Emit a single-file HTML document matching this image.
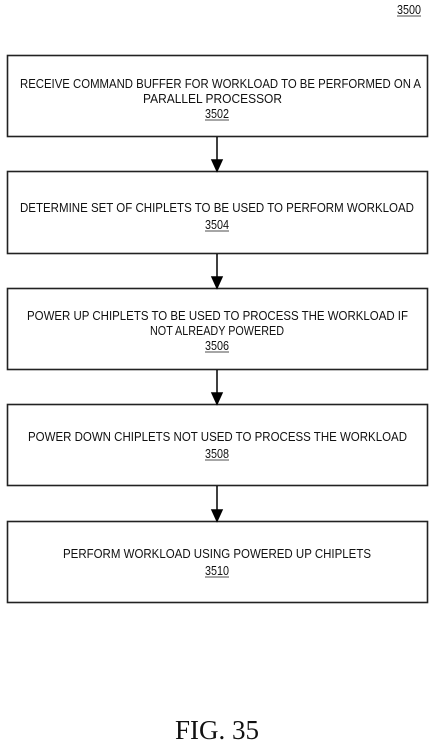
<!DOCTYPE html>
<html><head><meta charset="utf-8"><style>
html,body{margin:0;padding:0;background:#fff;}
svg{display:block;}
text{font-family:"Liberation Sans",Arial,sans-serif;font-size:13px;fill:#111;}
</style></head><body>
<svg width="434" height="749" viewBox="0 0 434 749" xmlns="http://www.w3.org/2000/svg">
<g fill="none" stroke="#222" stroke-width="1.6">
<rect x="7.5" y="55.5" width="420" height="81"/>
<rect x="7.5" y="171.5" width="420" height="82"/>
<rect x="7.5" y="288.5" width="420" height="81"/>
<rect x="7.5" y="404.5" width="420" height="81"/>
<rect x="7.5" y="521.5" width="420" height="81"/>
</g>
<g stroke="#000" stroke-width="1.5">
<line x1="217" y1="137" x2="217" y2="171"/>
<path d="M212,160 L222,160 L217,171 Z" fill="#000"/>
<line x1="217" y1="254" x2="217" y2="288"/>
<path d="M212,277 L222,277 L217,288 Z" fill="#000"/>
<line x1="217" y1="370" x2="217" y2="404"/>
<path d="M212,393 L222,393 L217,404 Z" fill="#000"/>
<line x1="217" y1="486" x2="217" y2="521"/>
<path d="M212,510 L222,510 L217,521 Z" fill="#000"/>
</g>
<text x="397" y="14" textLength="24" lengthAdjust="spacingAndGlyphs">3500</text>
<line x1="397" y1="16" x2="421" y2="16" stroke="#111" stroke-width="0.8"/>

<text x="20" y="88" textLength="401" lengthAdjust="spacingAndGlyphs">RECEIVE COMMAND BUFFER FOR WORKLOAD TO BE PERFORMED ON A</text>
<text x="143" y="103" textLength="139" lengthAdjust="spacingAndGlyphs">PARALLEL PROCESSOR</text>
<text x="205" y="118" textLength="24" lengthAdjust="spacingAndGlyphs">3502</text>
<line x1="205" y1="120" x2="229" y2="120" stroke="#111" stroke-width="0.8"/>

<text x="20" y="212" textLength="394" lengthAdjust="spacingAndGlyphs">DETERMINE SET OF CHIPLETS TO BE USED TO PERFORM WORKLOAD</text>
<text x="205" y="229" textLength="24" lengthAdjust="spacingAndGlyphs">3504</text>
<line x1="205" y1="231" x2="229" y2="231" stroke="#111" stroke-width="0.8"/>

<text x="27" y="320" textLength="381" lengthAdjust="spacingAndGlyphs">POWER UP CHIPLETS TO BE USED TO PROCESS THE WORKLOAD IF</text>
<text x="150" y="335" textLength="134" lengthAdjust="spacingAndGlyphs">NOT ALREADY POWERED</text>
<text x="205" y="350" textLength="24" lengthAdjust="spacingAndGlyphs">3506</text>
<line x1="205" y1="352" x2="229" y2="352" stroke="#111" stroke-width="0.8"/>

<text x="28" y="441" textLength="379" lengthAdjust="spacingAndGlyphs">POWER DOWN CHIPLETS NOT USED TO PROCESS THE WORKLOAD</text>
<text x="205" y="458" textLength="24" lengthAdjust="spacingAndGlyphs">3508</text>
<line x1="205" y1="460" x2="229" y2="460" stroke="#111" stroke-width="0.8"/>

<text x="63" y="558" textLength="308" lengthAdjust="spacingAndGlyphs">PERFORM WORKLOAD USING POWERED UP CHIPLETS</text>
<text x="205" y="575" textLength="24" lengthAdjust="spacingAndGlyphs">3510</text>
<line x1="205" y1="577" x2="229" y2="577" stroke="#111" stroke-width="0.8"/>

<text x="217" y="739" text-anchor="middle" style="font-family:'Liberation Serif',serif;font-size:27px;">FIG. 35</text>
</svg>
</body></html>
